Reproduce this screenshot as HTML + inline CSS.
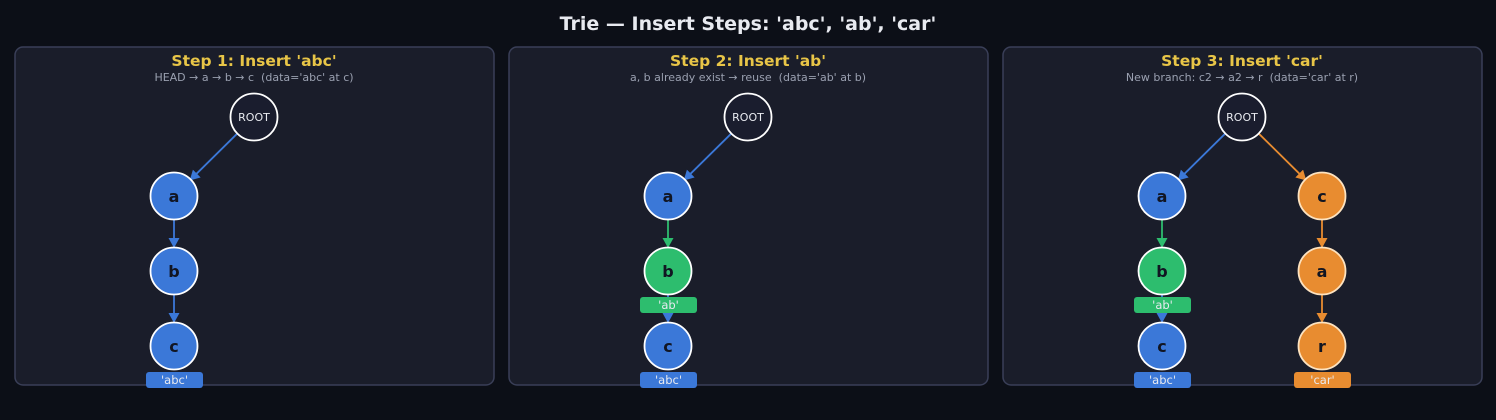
<!DOCTYPE html>
<html><head><meta charset="utf-8"><style>
html,body{margin:0;padding:0;background:#0c0f17;}
svg{display:block}
text{font-family:"DejaVu Sans","Liberation Sans",sans-serif;white-space:pre}
</style></head><body>
<svg width="1496" height="420" viewBox="0 0 1496 420" xmlns="http://www.w3.org/2000/svg">
<defs>
<marker id="mb" markerWidth="10" markerHeight="11" refX="9" refY="5.5" orient="auto" markerUnits="userSpaceOnUse"><path d="M0,0 L10,5.5 L0,11 z" fill="#3b78d8"/></marker>
<marker id="mg" markerWidth="10" markerHeight="11" refX="9" refY="5.5" orient="auto" markerUnits="userSpaceOnUse"><path d="M0,0 L10,5.5 L0,11 z" fill="#2dbd6e"/></marker>
<marker id="mo" markerWidth="10" markerHeight="11" refX="9" refY="5.5" orient="auto" markerUnits="userSpaceOnUse"><path d="M0,0 L10,5.5 L0,11 z" fill="#e88c30"/></marker>
</defs>
<rect width="1496" height="420" fill="#0c0f17"/>
<text x="748" y="30" text-anchor="middle" font-size="19" font-weight="bold" fill="#e8eaf0">Trie — Insert Steps: 'abc', 'ab', 'car'</text>

<g>
<rect x="15" y="47" width="479" height="338" rx="8" fill="#1a1d2a" stroke="#3a3f58" stroke-width="1.5"/>
<rect x="509" y="47" width="479" height="338" rx="8" fill="#1a1d2a" stroke="#3a3f58" stroke-width="1.5"/>
<rect x="1003" y="47" width="479" height="338" rx="8" fill="#1a1d2a" stroke="#3a3f58" stroke-width="1.5"/>
</g>

<g font-weight="bold" font-size="15.5" fill="#e8c547" text-anchor="middle">
<text x="254" y="66">Step 1: Insert 'abc'</text>
<text x="748" y="66">Step 2: Insert 'ab'</text>
<text x="1242" y="66">Step 3: Insert 'car'</text>
</g>
<g font-size="11" fill="#9aa0b0" text-anchor="middle">
<text x="254" y="81" xml:space="preserve">HEAD → a → b → c  (data='abc' at c)</text>
<text x="748" y="81" xml:space="preserve">a, b already exist → reuse  (data='ab' at b)</text>
<text x="1242" y="81" xml:space="preserve">New branch: c2 → a2 → r  (data='car' at r)</text>
</g>

<g stroke-width="1.8" fill="none">
<line x1="237" y1="133.8" x2="190.4" y2="179.8" stroke="#3b78d8" marker-end="url(#mb)"/>
<line x1="174" y1="220" x2="174" y2="247" stroke="#3b78d8" marker-end="url(#mb)"/>
<line x1="174" y1="295" x2="174" y2="322" stroke="#3b78d8" marker-end="url(#mb)"/>

<line x1="731" y1="133.8" x2="684.4" y2="179.8" stroke="#3b78d8" marker-end="url(#mb)"/>
<line x1="668" y1="220" x2="668" y2="247" stroke="#2dbd6e" marker-end="url(#mg)"/>
<line x1="668" y1="295" x2="668" y2="322" stroke="#3b78d8" marker-end="url(#mb)"/>

<line x1="1225" y1="133.8" x2="1178.4" y2="179.8" stroke="#3b78d8" marker-end="url(#mb)"/>
<line x1="1162" y1="220" x2="1162" y2="247" stroke="#2dbd6e" marker-end="url(#mg)"/>
<line x1="1162" y1="295" x2="1162" y2="322" stroke="#3b78d8" marker-end="url(#mb)"/>
<line x1="1259" y1="133.8" x2="1305.6" y2="179.8" stroke="#e88c30" marker-end="url(#mo)"/>
<line x1="1322" y1="220" x2="1322" y2="247" stroke="#e88c30" marker-end="url(#mo)"/>
<line x1="1322" y1="295" x2="1322" y2="322" stroke="#e88c30" marker-end="url(#mo)"/>
</g>

<g stroke-width="1.8">
<circle cx="254" cy="117" r="23.5" fill="#1a1d2e" stroke="#ffffff"/>
<circle cx="174" cy="196" r="23.5" fill="#3b78d8" stroke="#ffffff"/>
<circle cx="174" cy="271" r="23.5" fill="#3b78d8" stroke="#ffffff"/>
<circle cx="174" cy="346" r="23.5" fill="#3b78d8" stroke="#ffffff"/>

<circle cx="748" cy="117" r="23.5" fill="#1a1d2e" stroke="#ffffff"/>
<circle cx="668" cy="196" r="23.5" fill="#3b78d8" stroke="#ffffff"/>
<circle cx="668" cy="271" r="23.5" fill="#2dbd6e" stroke="#ffffff"/>
<circle cx="668" cy="346" r="23.5" fill="#3b78d8" stroke="#ffffff"/>

<circle cx="1242" cy="117" r="23.5" fill="#1a1d2e" stroke="#ffffff"/>
<circle cx="1162" cy="196" r="23.5" fill="#3b78d8" stroke="#ffffff"/>
<circle cx="1162" cy="271" r="23.5" fill="#2dbd6e" stroke="#ffffff"/>
<circle cx="1162" cy="346" r="23.5" fill="#3b78d8" stroke="#ffffff"/>
<circle cx="1322" cy="196" r="23.5" fill="#e88c30" stroke="#fde3c0"/>
<circle cx="1322" cy="271" r="23.5" fill="#e88c30" stroke="#fde3c0"/>
<circle cx="1322" cy="346" r="23.5" fill="#e88c30" stroke="#fde3c0"/>
</g>

<g font-size="11" fill="#e8eaf0" text-anchor="middle">
<text x="254" y="121">ROOT</text>
<text x="748" y="121">ROOT</text>
<text x="1242" y="121">ROOT</text>
</g>
<g font-size="16" font-weight="bold" fill="#111522" text-anchor="middle">
<text x="174" y="202">a</text><text x="174" y="277">b</text><text x="174" y="352">c</text>
<text x="668" y="202">a</text><text x="668" y="277">b</text><text x="668" y="352">c</text>
<text x="1162" y="202">a</text><text x="1162" y="277">b</text><text x="1162" y="352">c</text>
<text x="1322" y="202">c</text><text x="1322" y="277">a</text><text x="1322" y="352">r</text>
</g>

<g>
<rect x="146" y="372" width="57" height="16" rx="3" fill="#3b78d8"/>
<rect x="640" y="297" width="57" height="16" rx="3" fill="#2dbd6e"/>
<rect x="640" y="372" width="57" height="16" rx="3" fill="#3b78d8"/>
<rect x="1134" y="297" width="57" height="16" rx="3" fill="#2dbd6e"/>
<rect x="1134" y="372" width="57" height="16" rx="3" fill="#3b78d8"/>
<rect x="1294" y="372" width="57" height="16" rx="3" fill="#e88c30"/>
</g>
<g font-size="11.5" fill="#e8eaf0" text-anchor="middle">
<text x="174.5" y="384">'abc'</text>
<text x="668.5" y="309">'ab'</text>
<text x="668.5" y="384">'abc'</text>
<text x="1162.5" y="309">'ab'</text>
<text x="1162.5" y="384">'abc'</text>
<text x="1322.5" y="384">'car'</text>
</g>
</svg>
</body></html>
